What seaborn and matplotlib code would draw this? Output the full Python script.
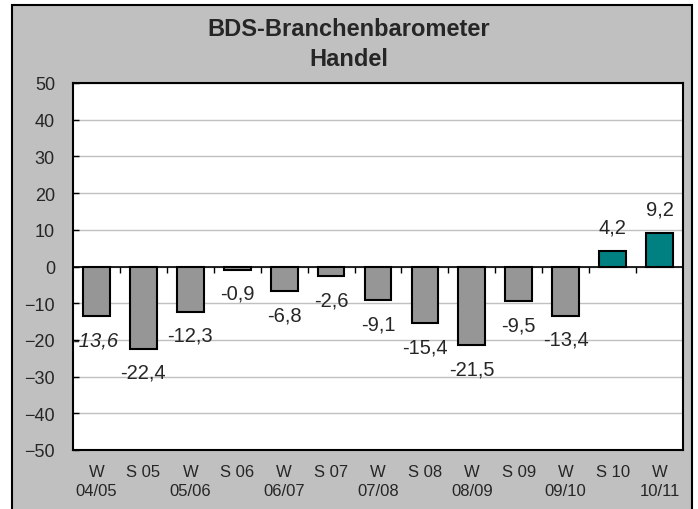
import numpy as np
import pandas as pd
import seaborn as sns
import matplotlib.pyplot as plt
from matplotlib.patches import Rectangle
from matplotlib.lines import TICKDOWN

# data
periods = ["W\n04/05", "S 05", "W\n05/06", "S 06", "W\n06/07", "S 07", "W\n07/08",
           "S 08", "W\n08/09", "S 09", "W\n09/10", "S 10", "W\n10/11"]
values = [-13.6, -22.4, -12.3, -0.9, -6.8, -2.6, -9.1, -15.4, -21.5, -9.5, -13.4, 4.2, 9.2]
bar_colors = ["#969696"] * 11 + ["#008080"] * 2

df = pd.DataFrame({"period": periods, "value": values})

sns.set_theme(style="white")
plt.rcParams["font.family"] = ["Liberation Sans", "DejaVu Sans"]

fig = plt.figure(figsize=(6.98, 5.10), dpi=100, facecolor="white")
# grey chart area with black border
fig.patches.append(Rectangle((12 / 698, -0.01), 680 / 698, 1 - 6 / 510 + 0.01,
                             transform=fig.transFigure, facecolor="#C0C0C0",
                             edgecolor="black", linewidth=1.5, zorder=-10))

ax = fig.add_axes([73 / 698, 59 / 510, 610 / 698, 367 / 510])
ax.set_facecolor("white")

sns.barplot(data=df, x="period", y="value", hue="period", palette=bar_colors,
            legend=False, width=0.57, edgecolor="black", linewidth=1.5,
            saturation=1, ax=ax, zorder=3)

ax.set_ylim(-50, 50)
ax.set_xlim(-0.5, len(periods) - 0.5)
ax.set_yticks(np.arange(-50, 51, 10))
ax.yaxis.grid(True, color="#C0C0C0", linewidth=1)
ax.set_axisbelow(True)
ax.axhline(0, color="black", linewidth=1.2, zorder=4)
# small category separators on the zero line
ax.plot(np.arange(len(periods) - 1) + 0.5, np.zeros(len(periods) - 1),
        linestyle="none", marker=TICKDOWN, markersize=4, color="black",
        markeredgewidth=1, zorder=4)

ax.set_xlabel("")
ax.set_ylabel("")
ax.tick_params(axis="y", direction="in", length=4, width=1, color="black",
               labelsize=13, pad=13, left=True)
ax.tick_params(axis="x", length=0, labelsize=12, pad=10)
for lab in ax.get_xticklabels():
    lab.set_linespacing(1.35)
for s in ax.spines.values():
    s.set_color("black")
    s.set_linewidth(1.5)

# value labels
for i, v in enumerate(values):
    txt = f"{v:.1f}".replace(".", ",")
    off = 17 if v > 0 else -17
    ax.annotate(txt, (i, v), xytext=(0, off), textcoords="offset points",
                ha="center", va="center", fontsize=14.5,
                fontstyle="italic" if i == 0 else "normal", zorder=5)

fig.text(0.5, 1 - 29 / 510, "BDS-Branchenbarometer", ha="center", va="center",
         fontsize=17, fontweight="bold")
fig.text(0.5, 1 - 60 / 510, "Handel", ha="center", va="center",
         fontsize=17, fontweight="bold")

fig.savefig("out.png", dpi=100, facecolor=fig.get_facecolor())
